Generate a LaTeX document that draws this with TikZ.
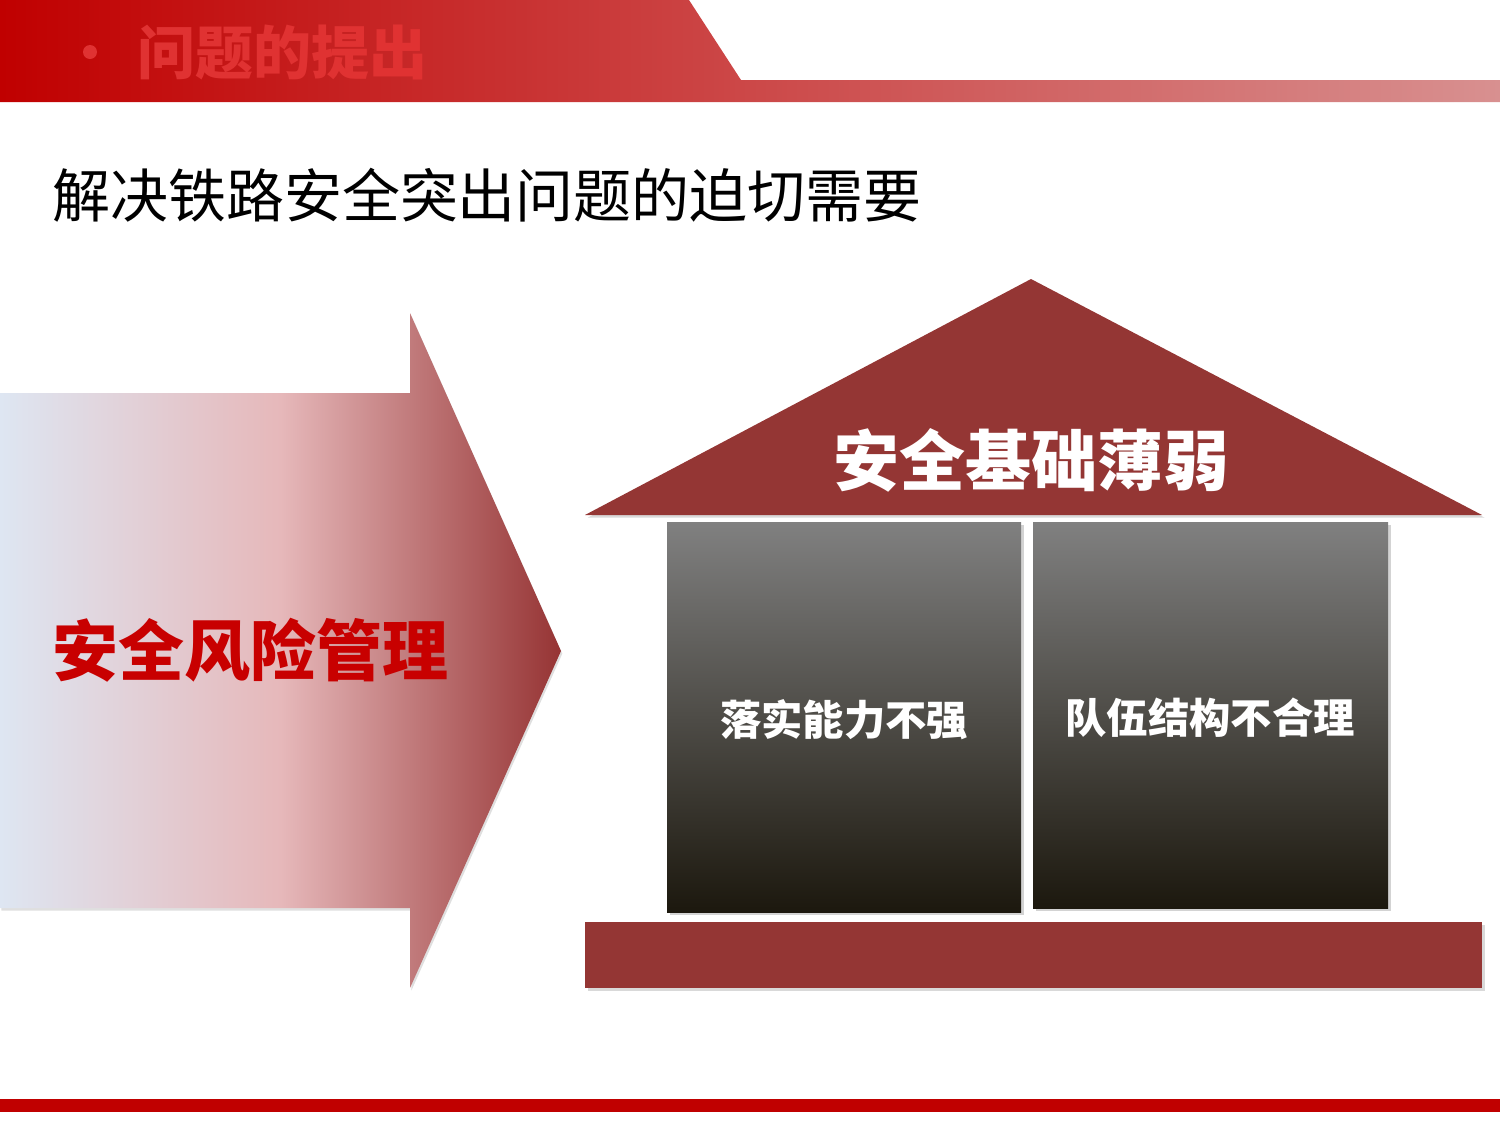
\documentclass[tikz,border=0pt]{standalone}
\usepackage{fontspec}
\newfontfamily\cjk{Noto Sans CJK SC}
\usetikzlibrary{shadows}

\definecolor{bannerred}{RGB}{192,0,0}
\definecolor{bannerpale}{RGB}{216,144,144}
\definecolor{headred}{RGB}{224,50,50}
\definecolor{roofred}{RGB}{148,54,52}
\definecolor{riskred}{RGB}{200,0,0}
\definecolor{boxtop}{RGB}{128,128,128}
\definecolor{boxbottom}{RGB}{28,24,14}
\definecolor{fadeblue}{RGB}{222,230,242}
\definecolor{fadepink}{RGB}{230,184,186}
\definecolor{fadedark}{RGB}{150,52,52}

\pgfdeclarehorizontalshading{arrowfade}{100bp}{color(0bp)=(fadeblue); color(25bp)=(fadeblue); color(50bp)=(fadepink); color(75bp)=(fadedark); color(100bp)=(fadedark)}

\tikzset{
  pillar/.style={top color=boxtop, bottom color=boxbottom, drop shadow={opacity=0.35, shadow xshift=2pt, shadow yshift=-2pt}},
  redblock/.style={fill=roofred, drop shadow={opacity=0.3, shadow xshift=2pt, shadow yshift=-2pt}},
  pillartext/.style={text=white, font=\cjk\bfseries\fontsize{31}{33}\selectfont},
}

\begin{document}
\begin{tikzpicture}[x=0.75pt,y=0.75pt,yscale=-1,xscale=1]
\useasboundingbox (0,0) rectangle (1500,1125);

% banner
\shade [left color=bannerred, right color=bannerpale] (0,0) -- (689,0) -- (741,80) -- (1500,80) -- (1500,102) -- (0,102) -- cycle ;
\node (hdot) [circle, fill=headred, inner sep=0pt, minimum size=10.5pt] at (90,52) {};
\node (head) [text=headred, font=\cjk\bfseries\fontsize{43.5}{46}\selectfont, inner sep=0pt] at (282,52) {问题的提出};

% subtitle
\node (need) [font=\cjk\fontsize{43.5}{46}\selectfont, inner sep=0pt] at (487,195) {解决铁路安全突出问题的迫切需要};

% arrow
\shade [shading=arrowfade, drop shadow={opacity=0.25, shadow xshift=1pt, shadow yshift=-2pt}] (0,393) -- (410,393) -- (410,313) -- (561,651) -- (410,988) -- (410,908) -- (0,908) -- cycle ;
\node (risk) [text=riskred, font=\cjk\bfseries\fontsize{49.5}{52}\selectfont, inner sep=0pt] at (250,650) {安全风险管理};

% house
\draw [redblock, draw=none] (585,515) -- (1031,279) -- (1482,515) -- cycle ;
\node (base) [text=white, font=\cjk\bfseries\fontsize{49.5}{52}\selectfont, inner sep=0pt] at (1031,460) {安全基础薄弱};
\shade [pillar] (667,522) rectangle (1021,912) ;
\shade [pillar] (1033,522) rectangle (1388,908) ;
\node (weak) [pillartext, inner sep=0pt] at (844,720) {落实能力不强};
\node (team) [pillartext, inner sep=0pt] at (1210,718) {队伍结构不合理};
\draw [redblock, draw=none] (585,922) rectangle (1482,988) ;

% footer line
\fill [bannerred] (0,1099) rectangle (1500,1112) ;

\end{tikzpicture}
\end{document}
